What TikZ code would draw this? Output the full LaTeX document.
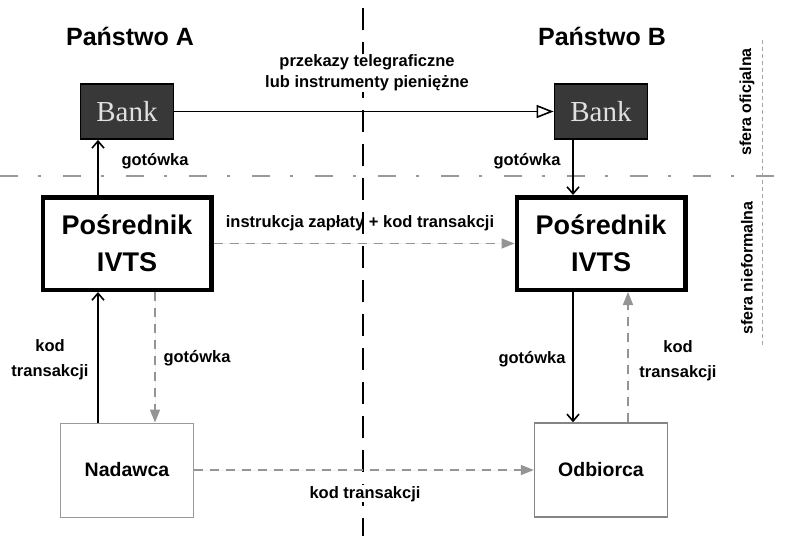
\documentclass[tikz,border=0pt]{standalone}
\usepackage{fontspec}
\setmainfont{Liberation Sans}
\newfontfamily\bankserif{Liberation Serif}
\usetikzlibrary{arrows.meta}
\colorlet{codegray}{black!42}
\colorlet{bankfill}{black!78}
\newcommand\titlesize{\fontsize{25}{28}\selectfont\bfseries}
\newcommand\labelsize{\fontsize{16.5}{25}\selectfont\bfseries}
\tikzset{
  bankbox/.style={draw=black, line width=1.8pt, fill=bankfill, minimum width=93pt,
    minimum height=55pt, inner sep=0pt, text=black!12, font=\bankserif\fontsize{29}{30}\selectfont},
  ivtsbox/.style={draw=black, line width=4.5pt, fill=white, minimum width=168.5pt,
    minimum height=92.5pt, inner sep=0pt, align=center,
    font=\fontsize{27}{37}\selectfont\bfseries},
  clientbox/.style={draw=black!40, line width=1pt, minimum width=133pt,
    minimum height=94pt, inner sep=0pt, font=\fontsize{19.5}{22}\selectfont\bfseries},
  cashflow/.style={-{Straight Barb[length=7pt,width=12pt,line width=1.6pt]}, line width=2pt, draw=black},
  codeflow/.style={-{Triangle[length=13pt,width=10pt]}, line width=1.6pt, draw=codegray,
    fill=codegray, dash pattern=on 9pt off 7pt},
  wirelink/.style={-{Triangle[open,length=17pt,width=13pt,line width=1.6pt]}, line width=1.6pt, draw=black},
  flabel/.style={font=\labelsize, inner sep=1pt, align=center},
  sphere/.style={font=\fontsize{16}{18}\selectfont\bfseries, rotate=90, inner sep=1pt},
}
\begin{document}
\begin{tikzpicture}[x=1pt,y=-1pt]
\useasboundingbox (0,0) rectangle (792,536);
% country border and the two spheres
\draw[black, line width=2pt, dash pattern=on 22pt off 12pt] (363,8) -- (363,536);
\draw[black!40, line width=2.4pt, dash pattern=on 18pt off 20pt on 3pt off 22pt] (0,176) -- (792,176);
\draw[black!35, line width=0.6pt, dash pattern=on 4pt off 3pt] (762,40) -- (762,345);
\node[sphere] (offsph) at (747,102) {sfera oficjalna};
\node[sphere] (infsph) at (747,268) {sfera nieformalna};
\node[font=\titlesize, anchor=base] (stateA) at (130,45) {Państwo A};
\node[font=\titlesize, anchor=base] (stateB) at (602,45) {Państwo B};
% boxes
\node[bankbox] (bankA) at (127,111.5) {Bank};
\node[bankbox] (bankB) at (601,111.5) {Bank};
\node[ivtsbox] (posA) at (127,243.5) {Pośrednik\\IVTS};
\node[ivtsbox] (posB) at (601,243.5) {Pośrednik\\IVTS};
\node[clientbox] (nad) at (127,470) {Nadawca};
\node[clientbox, draw=black!48, line width=1.4pt] (odb) at (601,470) {Odbiorca};
% bank to bank
\draw[wirelink] (bankA) -- (bankB);
\node[flabel, fill=white] (wire) at (367,73) {przekazy telegraficzne\\[-4pt]lub instrumenty pieniężne};
% cash up and down
\draw[cashflow] ([xshift=-29pt]posA.north) -- ([xshift=-29pt]bankA.south);
\draw[cashflow] ([xshift=-28pt]bankB.south) -- ([xshift=-28pt]posB.north);
\draw[cashflow] ([xshift=-29pt]nad.north) -- ([xshift=-29pt]posA.south);
\draw[cashflow] ([xshift=-28pt]posB.south) -- ([xshift=-28pt]odb.north);
\node[flabel, anchor=base] (cashA) at (155,165) {gotówka};
\node[flabel, anchor=base] (cashB) at (527,165) {gotówka};
\node[flabel] (codeA) at (50,360) {kod\\transakcji};
\node[flabel, anchor=base] (cashB2) at (532,363) {gotówka};
% codes and cash handed over informally
\draw[codeflow] ([xshift=28pt]posA.south) -- ([xshift=28pt]nad.north);
\draw[codeflow] ([xshift=27pt]odb.north) -- ([xshift=27pt]posB.south);
\draw[codeflow] (posA) -- (posB);
\draw[codeflow] (nad) -- (odb);
\node[flabel, anchor=base] (cashA2) at (197,362) {gotówka};
\node[flabel] (codeB) at (678,361) {kod\\transakcji};
\node[flabel, anchor=base] (instr) at (360,227) {instrukcja zapłaty + kod transakcji};
\node[flabel, anchor=base, fill=white] (codeN) at (365,498) {kod transakcji};
\end{tikzpicture}
\end{document}
